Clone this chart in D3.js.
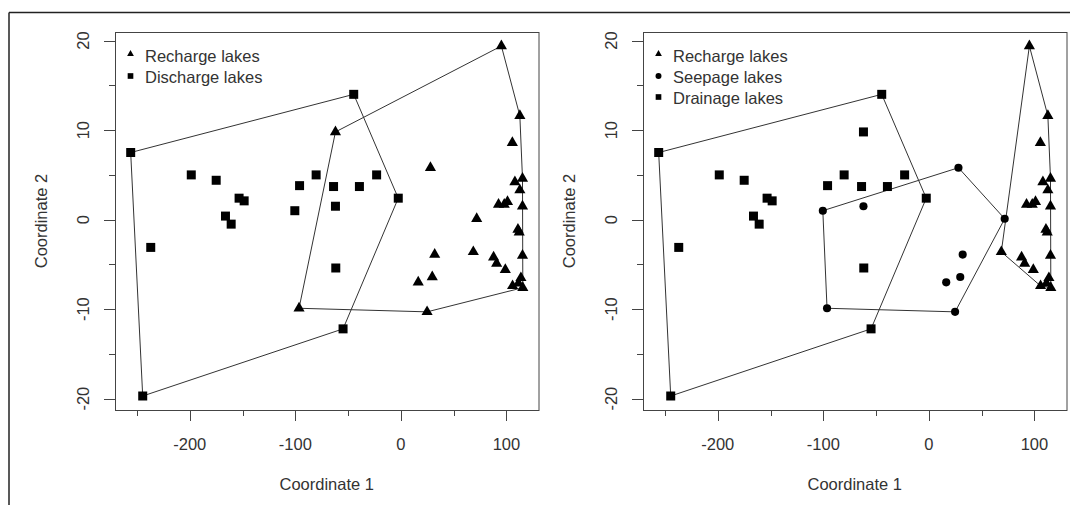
<!DOCTYPE html>
<html>
<head>
<meta charset="utf-8">
<script src="https://cdn.jsdelivr.net/npm/d3@7"></script>
<style>
  body { margin: 0; background: #fff; }
  svg { display: block; }
  text { font-family: "Liberation Sans", Arial, sans-serif; fill: #333; }
</style>
</head>
<body>
<div id="chart"></div>
<script>
// ordination scores, one entry per lake
var coord1 = [-44.7, -256, -244.6, -54.8, -2.5, -198.6, -175, -153.3, -148.5, -166.2,
              -160.8, -237, -100.5, -96, -80.3, -63.8, -62, -39.3, -23, -61.7,
              -62, -96.5, 95.2, 112.7, 105.6, 28, 115.2, 108, 112.7, 92.5,
              97.9, 101, 115.2, 71.8, 110.9, 112.1, 32, 68.6, 87.8, 90.7,
              98.9, 115.2, 16.4, 29.7, 105.8, 111.4, 113.7, 115.5, 24.8];
var coord2 = [14.0, 7.5, -19.7, -12.2, 2.4, 5.0, 4.4, 2.4, 2.1, 0.4,
              -0.5, -3.1, 1.0, 3.8, 5.0, 3.7, 1.5, 3.7, 5.0, -5.4,
              9.8, -9.9, 19.4, 11.6, 8.6, 5.8, 4.6, 4.2, 3.3, 1.7,
              1.7, 2.0, 1.5, 0.1, -1.1, -1.4, -3.9, -3.6, -4.2, -4.9,
              -5.6, -4.0, -7.0, -6.4, -7.4, -7.1, -6.5, -7.6, -10.3];

// left panel grouping
var flowClass = ['D','D','D','D','D','D','D','D','D','D',
                 'D','D','D','D','D','D','D','D','D','D',
                 'R','R','R','R','R','R','R','R','R','R',
                 'R','R','R','R','R','R','R','R','R','R',
                 'R','R','R','R','R','R','R','R','R'];
// right panel grouping
var lakeType = ['Dr','Dr','Dr','Dr','Dr','Dr','Dr','Dr','Dr','Dr',
                'Dr','Dr','S','Dr','Dr','Dr','S','Dr','Dr','Dr',
                'Dr','S','R','R','R','S','R','R','R','R',
                'R','R','R','S','R','R','S','R','R','R',
                'R','R','S','S','R','R','R','R','S'];

var flowGroups = [
    { key: 'R', label: 'Recharge lakes', shape: 'triangle' },
    { key: 'D', label: 'Discharge lakes', shape: 'square' }
];
var typeGroups = [
    { key: 'R', label: 'Recharge lakes', shape: 'triangle' },
    { key: 'S', label: 'Seepage lakes', shape: 'circle' },
    { key: 'Dr', label: 'Drainage lakes', shape: 'square' }
];

var xTicks = [-250, -200, -150, -100, -50, 0, 50, 100],
    xLabels = [-200, -100, 0, 100],
    yTicks = [-20, -15, -10, -5, 0, 5, 10, 15, 20],
    yLabels = [-20, -10, 0, 10, 20];

var width = 1070, height = 505;

var svg = d3.select('#chart').append('svg')
    .attr('width', width)
    .attr('height', height);

// frame of the figure (cropped)
svg.append('line').attr('x1', 9).attr('x2', width).attr('y1', 12.5).attr('y2', 12.5)
    .style('stroke', '#222').style('stroke-width', 1.5);
svg.append('line').attr('x1', 9).attr('x2', 9).attr('y1', 12.5).attr('y2', height)
    .style('stroke', '#222').style('stroke-width', 1.5);

function padded(ext) {
    var d = (ext[1] - ext[0]) * 0.04;
    return [ext[0] - d, ext[1] + d];
}

var xDomain = padded(d3.extent(coord1)),
    yDomain = padded(d3.extent(coord2));

function shapeOf(name, size) {
    var t = name === 'triangle' ? d3.symbolTriangle : name === 'circle' ? d3.symbolCircle : d3.symbolSquare;
    return d3.symbol().type(t).size(size)();
}

var plotSize = { triangle: 54, square: 81, circle: 52 },
    keySize  = { triangle: 20, square: 32, circle: 28 };

function panel(left, right, classes, groups) {
    var top = 32, bottom = 410,
        x = d3.scaleLinear().domain(xDomain).range([left, right]),
        y = d3.scaleLinear().domain(yDomain).range([bottom, top]),
        g = svg.append('g'),
        lakes = coord1.map(function(c, i) {
            return { x: c, y: coord2[i], cls: classes[i] };
        });

    // hulls
    groups.forEach(function(grp) {
        var pts = lakes.filter(function(d) { return d.cls === grp.key; })
            .map(function(d) { return [x(d.x), y(d.y)]; });
        var hull = d3.polygonHull(pts);
        g.append('path')
            .attr('d', 'M' + hull.join('L') + 'Z')
            .style('fill', 'none')
            .style('stroke', '#333')
            .style('stroke-width', 1);
    });

    // points
    groups.forEach(function(grp) {
        g.selectAll(null)
            .data(lakes.filter(function(d) { return d.cls === grp.key; }))
            .enter()
            .append('path')
            .attr('transform', function(d) { return 'translate(' + x(d.x) + ',' + y(d.y) + ')'; })
            .attr('d', shapeOf(grp.shape, plotSize[grp.shape]))
            .style('fill', '#000');
    });

    // box
    g.append('rect')
        .attr('x', left + 0.5).attr('y', top + 0.5)
        .attr('width', right - left).attr('height', bottom - top)
        .style('fill', 'none').style('stroke', '#444').style('stroke-width', 1);

    // x axis
    g.selectAll(null).data(xTicks).enter().append('line')
        .attr('x1', function(d) { return Math.round(x(d)) + 0.5; })
        .attr('x2', function(d) { return Math.round(x(d)) + 0.5; })
        .attr('y1', bottom)
        .attr('y2', function(d) { return bottom + (xLabels.indexOf(d) >= 0 ? 11 : 6); })
        .style('stroke', '#444');
    g.selectAll(null).data(xLabels).enter().append('text')
        .attr('x', function(d) { return x(d); })
        .attr('y', 450)
        .attr('text-anchor', 'middle')
        .style('font-size', '16.5px')
        .text(function(d) { return d; });
    g.append('text')
        .attr('x', (left + right) / 2).attr('y', 490)
        .attr('text-anchor', 'middle')
        .style('font-size', '16.5px')
        .text('Coordinate 1');

    // y axis
    g.selectAll(null).data(yTicks).enter().append('line')
        .attr('y1', function(d) { return Math.round(y(d)) + 0.5; })
        .attr('y2', function(d) { return Math.round(y(d)) + 0.5; })
        .attr('x1', left)
        .attr('x2', function(d) { return left - (yLabels.indexOf(d) >= 0 ? 11 : 6); })
        .style('stroke', '#444');
    g.selectAll(null).data(yLabels).enter().append('text')
        .attr('transform', function(d) { return 'translate(' + (left - 26) + ',' + y(d) + ') rotate(-90)'; })
        .attr('text-anchor', 'middle')
        .style('font-size', '16.5px')
        .text(function(d) { return d; });
    g.append('text')
        .attr('transform', 'translate(' + (left - 68) + ',' + ((top + bottom) / 2) + ') rotate(-90)')
        .attr('text-anchor', 'middle')
        .style('font-size', '16.5px')
        .text('Coordinate 2');

    // legend
    groups.forEach(function(grp, i) {
        var cy = 55 + i * 21;
        g.append('path')
            .attr('transform', 'translate(' + (left + 15.5) + ',' + (cy - (grp.shape === 'triangle' ? 1 : 0)) + ')')
            .attr('d', shapeOf(grp.shape, keySize[grp.shape]))
            .style('fill', '#000');
        g.append('text')
            .attr('x', left + 30)
            .attr('y', cy + 7)
            .style('font-size', '16.5px')
            .text(grp.label);
    });
}

panel(115, 538.5, flowClass, flowGroups);
panel(643, 1066.5, lakeType, typeGroups);
</script>
</body>
</html>
